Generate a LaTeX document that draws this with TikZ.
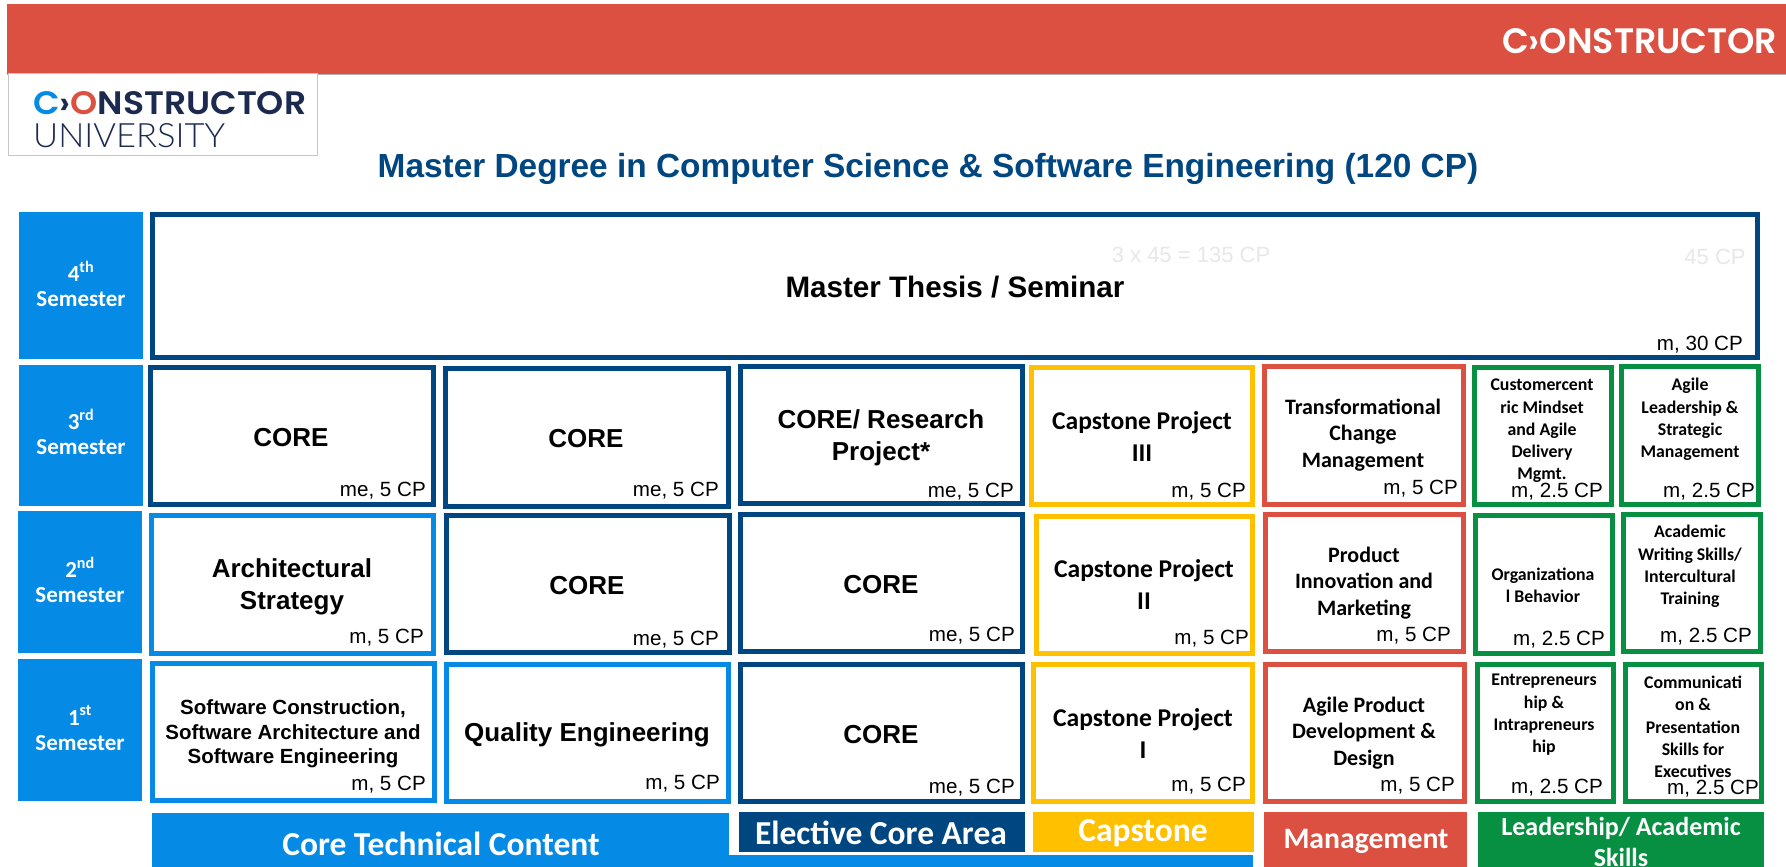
\documentclass[tikz,border=0pt]{standalone}
\usepackage{fontspec}
\setmainfont{Liberation Sans}
\newfontfamily\calbf{Carlito}
\newfontface\popf{Poppins SemiBold}
\newfontface\latl{Lato Light}
\definecolor{navy}{HTML}{004680}
\definecolor{sky}{HTML}{058AE6}
\definecolor{gold}{HTML}{FFC000}
\definecolor{brick}{HTML}{DB5040}
\definecolor{leaf}{HTML}{078F42}
\definecolor{logonavy}{HTML}{1B2A4E}
\newcommand\fsz[2]{\fontsize{#1pt}{#2pt}\selectfont}
\tikzset{
  x=1pt,y=-1pt,
  cellbox/.style={rectangle,line width=5pt,inner sep=0pt,outer sep=0pt,fill=white},
  flatbox/.style={rectangle,inner sep=0pt,outer sep=0pt,draw=none},
  arial/.style={align=center,inner sep=0pt,text=black,yshift=-1.5pt,font=\bfseries\fsz{26}{32}},
  arialsm/.style={align=center,inner sep=0pt,text=black,yshift=-1pt,font=\bfseries\fsz{20.5}{24.6}},
  capst/.style={align=center,inner sep=0pt,text=black,font=\calbf\bfseries\fsz{25.6}{32}},
  mgmt/.style={align=center,inner sep=0pt,text=black,font=\calbf\bfseries\fsz{22}{26.5}},
  smalltxt/.style={align=center,inner sep=0pt,text=black,font=\calbf\bfseries\fsz{17.8}{22.3}},
  creditlab/.style={anchor=east,inner sep=0pt,text=black,yshift=-1.5pt,font=\fsz{20.6}{24}},
  semlab/.style={align=center,inner sep=0pt,text=white,font=\calbf\bfseries\fsz{23}{25}},
  leg/.style={align=center,inner sep=0pt,text=white,font=\calbf\bfseries\fsz{33.5}{34}},
}
\newcommand\drawcell[6]{%
  \pgfmathsetmacro\bw{#5-#3-5}\pgfmathsetmacro\bh{#6-#4-5}%
  \pgfmathsetmacro\bx{(#3+#5)/2}\pgfmathsetmacro\by{(#4+#6)/2}%
  \node[cellbox,draw=#2,minimum width=\bw pt,minimum height=\bh pt] (#1) at (\bx,\by) {};}
\newcommand\flatcell[6]{%
  \pgfmathsetmacro\bw{#5-#3}\pgfmathsetmacro\bh{#6-#4}%
  \pgfmathsetmacro\bx{(#3+#5)/2}\pgfmathsetmacro\by{(#4+#6)/2}%
  \node[flatbox,fill=#2,minimum width=\bw pt,minimum height=\bh pt] (#1) at (\bx,\by) {};}
\begin{document}
\begin{tikzpicture}
\useasboundingbox (0,0) rectangle (1786,867);
\fill[white] (0,0) rectangle (1786,867);
% header
\flatcell{header}{brick}{7}{4}{1786}{74.5}
\draw[gray!60,line width=1pt] (header.south west) -- (header.south east);
\node[inner sep=0pt,anchor=north west] (hlogo) at (1502,28) {\resizebox{275pt}{25pt}{\popf\color{white}C›ONSTRUCTOR}};
% logo box
\node[rectangle,draw=gray!45,line width=1pt,fill=white,inner sep=0pt,outer sep=0pt,minimum width=309pt,minimum height=81pt] (logobox) at (163,114.5) {};
\node[inner sep=0pt,anchor=north west] (logo) at (33,91) {\resizebox{273pt}{23pt}{\popf\textcolor{sky}{C}\textcolor{logonavy}{›}\textcolor{brick}{O}\textcolor{logonavy}{NSTRUCTOR}}};
\node[inner sep=0pt,anchor=north west] (logouni) at (33,123) {\resizebox{192pt}{24pt}{\latl\color{logonavy}UNIVERSITY}};
% title
\node[inner sep=0pt,text=navy,font=\bfseries\fsz{33.4}{36}] (title) at (928,168.5) {Master Degree in Computer Science \& Software Engineering (120 CP)};
% semesters
\flatcell{s4}{sky}{19}{212}{143}{359}
\flatcell{s3}{sky}{19}{365}{143}{506}
\flatcell{s2}{sky}{18}{511}{142}{653}
\flatcell{s1}{sky}{18}{659}{142}{801}
\node[semlab] (s4t) at (81,284) {4\textsuperscript{th}\\Semester};
\node[semlab] (s3t) at (81,432) {3\textsuperscript{rd}\\Semester};
\node[semlab] (s2t) at (80,580) {2\textsuperscript{nd}\\Semester};
\node[semlab] (s1t) at (80,728) {1\textsuperscript{st}\\Semester};
% thesis
\drawcell{th}{navy}{150}{212}{1760}{360}
\node[inner sep=0pt,text=black,font=\bfseries\fsz{29.6}{32}] (tht) at (955,287) {Master Thesis / Seminar};
\node[creditlab] (thc) at (1743,343) {m, 30 CP};
\node[inner sep=0pt,text=black!9,font=\fsz{22}{24}] (f1) at (1191,255) {3 x 45 = 135 CP};
\node[inner sep=0pt,text=black!9,font=\fsz{22}{24}] (f2) at (1715,257) {45 CP};
% row 3
\drawcell{a3}{navy}{148}{365}{436}{507}
\drawcell{b3}{navy}{443}{366}{731}{509}
\drawcell{c3}{navy}{738}{364}{1025}{506}
\drawcell{d3}{gold}{1029}{365}{1255}{507}
\drawcell{e3}{brick}{1262}{364}{1466}{507}
\drawcell{f3}{leaf}{1472}{365}{1614}{507}
\drawcell{g3}{leaf}{1619}{364}{1761}{507}
\node[arial] (a3t) at (291,436) {CORE};
\node[arial] (b3t) at (586,437) {CORE};
\node[arial] (c3t) at (881,436) {CORE/ Research\\Project*};
\node[capst] (d3t) at (1142,437) {Capstone Project\\III};
\node[mgmt] (e3t) at (1363,435) {Transformational\\Change\\Management};
\node[smalltxt] (f3t) at (1542,431) {Customercent\\ric Mindset\\and Agile\\Delivery\\Mgmt.};
\node[smalltxt] (g3t) at (1690,419.5) {Agile\\Leadership \&\\Strategic\\Management};
\node[creditlab] (a3c) at (426,489) {me, 5 CP};
\node[creditlab] (b3c) at (719,489) {me, 5 CP};
\node[creditlab] (c3c) at (1014,490) {me, 5 CP};
\node[creditlab] (d3c) at (1246,490) {m, 5 CP};
\node[creditlab] (e3c) at (1458,487) {m, 5 CP};
\node[creditlab] (f3c) at (1603,490) {m, 2.5 CP};
\node[creditlab] (g3c) at (1755,490) {m, 2.5 CP};
% row 2
\drawcell{a2}{sky}{149}{513}{436}{656}
\drawcell{b2}{navy}{444}{513}{732}{655}
\drawcell{c2}{navy}{738}{512}{1025}{654}
\drawcell{d2}{gold}{1034}{514}{1255}{656}
\drawcell{e2}{brick}{1263}{512}{1466}{654}
\drawcell{f2b}{leaf}{1473}{513}{1615}{656}
\drawcell{g2}{leaf}{1621}{512}{1763}{654}
\node[arial] (a2t) at (292,585) {Architectural\\Strategy};
\node[arial] (b2t) at (587,584) {CORE};
\node[arial] (c2t) at (881,583) {CORE};
\node[capst] (d2t) at (1144,585) {Capstone Project\\II};
\node[mgmt] (e2t) at (1364,583) {Product\\Innovation and\\Marketing};
\node[smalltxt] (f2t) at (1543,585) {Organizationa\\l Behavior};
\node[smalltxt] (g2t) at (1690,566.5) {Academic\\Writing Skills/\\Intercultural\\Training};
\node[creditlab] (a2c) at (424,636) {m, 5 CP};
\node[creditlab] (b2c) at (719,638) {me, 5 CP};
\node[creditlab] (c2c) at (1015,634) {me, 5 CP};
\node[creditlab] (d2c) at (1249,637) {m, 5 CP};
\node[creditlab] (e2c) at (1451,634) {m, 5 CP};
\node[creditlab] (f2c) at (1605,638) {m, 2.5 CP};
\node[creditlab] (g2c) at (1752,635) {m, 2.5 CP};
% row 1
\drawcell{a1}{sky}{150}{661}{437}{803}
\drawcell{b1}{sky}{444}{662}{731}{804}
\drawcell{c1}{navy}{738}{662}{1025}{804}
\drawcell{d1}{gold}{1031}{662}{1255}{804}
\drawcell{e1}{brick}{1263}{662}{1467}{804}
\drawcell{f1b}{leaf}{1475}{662}{1616}{804}
\drawcell{g1}{leaf}{1623}{662}{1764}{804}
\node[arialsm] (a1t) at (293,733) {Software Construction,\\Software Architecture and\\Software Engineering};
\node[arial] (b1t) at (587,733) {Quality Engineering};
\node[arial] (c1t) at (881,733) {CORE};
\node[capst] (d1t) at (1143,734) {Capstone Project\\I};
\node[mgmt] (e1t) at (1364,733) {Agile Product\\Development \&\\Design};
\node[smalltxt] (f1t) at (1544,715) {Entrepreneurs\\hip \&\\Intrapreneurs\\hip};
\node[smalltxt] (g1t) at (1693,727) {Communicati\\on \&\\Presentation\\Skills for\\Executives};
\node[creditlab] (a1c) at (426,783) {m, 5 CP};
\node[creditlab] (b1c) at (720,782) {m, 5 CP};
\node[creditlab] (c1c) at (1015,786) {me, 5 CP};
\node[creditlab] (d1c) at (1246,784) {m, 5 CP};
\node[creditlab] (e1c) at (1455,784) {m, 5 CP};
\node[creditlab] (f1c) at (1603,786) {m, 2.5 CP};
\node[creditlab] (g1c) at (1759,787) {m, 2.5 CP};
% legend
\flatcell{lcorestrip}{sky}{152}{855}{1253}{867}
\flatcell{lcore}{sky}{152}{813}{729}{867}
\flatcell{lelec}{navy}{739}{812}{1025}{852}
\flatcell{lcap}{gold}{1033}{812}{1254}{852}
\flatcell{lman}{brick}{1264}{812}{1467}{867}
\flatcell{llead}{leaf}{1478}{812}{1764}{867}
\node[leg] (lcoret) at (441,844) {Core Technical Content};
\node[leg] (lelect) at (881,833) {Elective Core Area};
\node[leg] (lcapt) at (1143,833) {Capstone};
\node[leg,font=\calbf\bfseries\fsz{29.7}{30}] (lmant) at (1366,841) {Management};
\node[leg,font=\calbf\bfseries\fsz{26}{31}] (lleadt) at (1621,841.5) {Leadership/ Academic\\Skills};
\end{tikzpicture}
\end{document}
